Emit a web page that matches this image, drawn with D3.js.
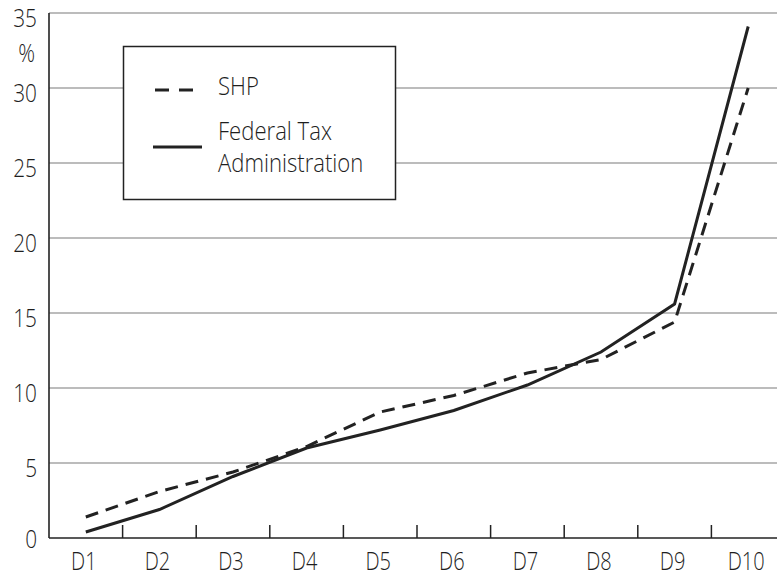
<!DOCTYPE html>
<html>
<head>
<meta charset="utf-8">
<script src="https://cdn.jsdelivr.net/npm/d3@7"></script>
<style>
  body { margin: 0; background: #fff; }
  text { font-family: 'Open Sans', 'Noto Sans', sans-serif; font-weight: 300; fill: #1e1e1e; }
</style>
</head>
<body>
<div id="chart"></div>
<script>
const svgWidth = 777;
const svgHeight = 578;

// deciles and shares of income (%)
const deciles = ['D1', 'D2', 'D3', 'D4', 'D5', 'D6', 'D7', 'D8', 'D9', 'D10'];
const shpValues = [1.4, 3.1, 4.4, 6.1, 8.4, 9.5, 11.0, 11.9, 14.4, 30.0];
const ftaValues = [0.4, 1.9, 4.1, 6.0, 7.2, 8.5, 10.2, 12.4, 15.6, 34.1];
const yTicks = [0, 5, 10, 15, 20, 25, 30, 35];
const legendLabels = [['SHP'], ['Federal Tax', 'Administration']];

const plotLeft = 49;
const plotTop = 13;
const plotBottom = 538;

const svg = d3.select('#chart').append('svg')
  .attr('width', svgWidth)
  .attr('height', svgHeight);

// the original face is narrow, squeeze the glyphs a bit
const condense = (sel, squeeze = 0.8) => {
  sel.each(function () {
    const w = this.getComputedTextLength();
    d3.select(this)
      .attr('textLength', w * squeeze)
      .attr('lengthAdjust', 'spacingAndGlyphs');
  });
};

const x = d3.scaleBand()
  .domain(deciles)
  .range([plotLeft, 785]);

const y = d3.scaleLinear()
  .domain([0, 35])
  .range([plotBottom, plotTop]);

// grid lines
svg.selectAll('.grid')
  .data(yTicks.filter(d => d > 0))
  .enter()
  .append('line')
  .attr('x1', plotLeft)
  .attr('x2', svgWidth)
  .attr('y1', d => y(d))
  .attr('y2', d => y(d))
  .attr('stroke', '#7a7a7a')
  .attr('stroke-width', 1.2);

// y labels
svg.selectAll('.ylab')
  .data(yTicks)
  .enter()
  .append('text')
  .attr('x', 37)
  .attr('y', d => y(d) + (d === 0 ? 10 : 13.5))
  .attr('text-anchor', 'end')
  .attr('font-size', 26)
  .text(d => d)
  .call(condense);

svg.append('text')
  .attr('x', 35)
  .attr('y', 62)
  .attr('text-anchor', 'end')
  .attr('font-size', 26)
  .text('%')
  .call(condense);

// axes
svg.append('line')
  .attr('x1', plotLeft).attr('x2', plotLeft)
  .attr('y1', plotTop).attr('y2', plotBottom)
  .attr('stroke', '#222').attr('stroke-width', 1.6);

svg.append('line')
  .attr('x1', plotLeft).attr('x2', svgWidth)
  .attr('y1', plotBottom).attr('y2', plotBottom)
  .attr('stroke', '#222').attr('stroke-width', 1.6);

// ticks between deciles
svg.selectAll('.tick')
  .data(deciles.slice(1))
  .enter()
  .append('line')
  .attr('x1', d => x(d))
  .attr('x2', d => x(d))
  .attr('y1', plotBottom)
  .attr('y2', plotBottom - 13)
  .attr('stroke', '#222')
  .attr('stroke-width', 1.5);

svg.selectAll('.xlab')
  .data(deciles)
  .enter()
  .append('text')
  .attr('x', d => x(d) + x.bandwidth() / 2 - 2)
  .attr('y', 570)
  .attr('text-anchor', 'middle')
  .attr('font-size', 25)
  .text(d => d)
  .call(condense);

// legend
svg.append('rect')
  .attr('x', 123.5)
  .attr('y', 46.5)
  .attr('width', 272)
  .attr('height', 153)
  .attr('fill', '#fff')
  .attr('stroke', '#222')
  .attr('stroke-width', 1.5);

svg.append('line')
  .attr('x1', 155).attr('x2', 194)
  .attr('y1', 90).attr('y2', 90)
  .attr('stroke', '#222').attr('stroke-width', 3)
  .attr('stroke-dasharray', '14,10');

svg.append('line')
  .attr('x1', 153).attr('x2', 202)
  .attr('y1', 147).attr('y2', 147)
  .attr('stroke', '#222').attr('stroke-width', 3);

const legendY = [95, 140];

const legendText = svg.selectAll('.legtxt')
  .data(legendLabels)
  .enter()
  .append('text')
  .attr('y', (d, i) => legendY[i])
  .attr('font-size', 26);

legendText.selectAll('tspan')
  .data(d => d)
  .enter()
  .append('tspan')
  .attr('x', 218)
  .attr('dy', (d, i) => i === 0 ? 0 : 32)
  .text(d => d)
  .call(condense, 0.85);

// lines
const line = d3.line()
  .x((d, i) => x(deciles[i]) + x.bandwidth() / 2)
  .y(d => y(d));

svg.append('path')
  .datum(shpValues)
  .attr('d', line)
  .attr('fill', 'none')
  .attr('stroke', '#222')
  .attr('stroke-width', 3)
  .attr('stroke-dasharray', '13,8');

svg.append('path')
  .datum(ftaValues)
  .attr('d', line)
  .attr('fill', 'none')
  .attr('stroke', '#222')
  .attr('stroke-width', 3);
</script>
</body>
</html>
